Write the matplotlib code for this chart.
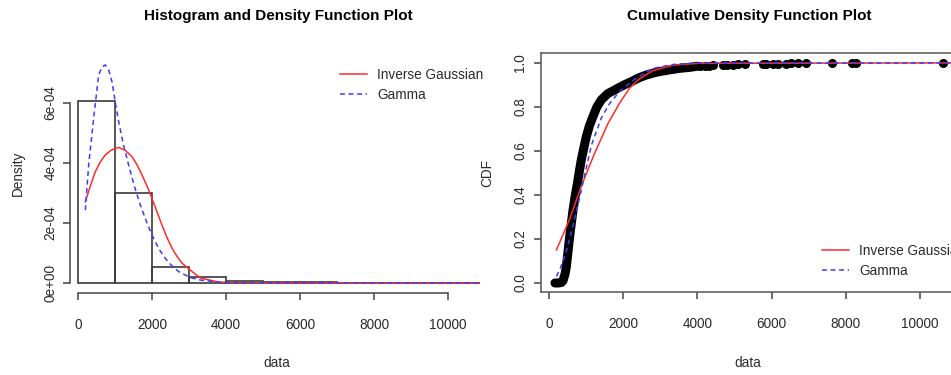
import numpy as np
import matplotlib
matplotlib.use("Agg")
import matplotlib.pyplot as plt
from matplotlib.lines import Line2D

plt.rcParams['font.family'] = ['Liberation Sans', 'DejaVu Sans']

# ---------------- data ----------------
hist_breaks = [0, 1000, 2000, 3000, 4000, 5000, 6000, 7000, 8000, 9000, 10000, 11000]
hist_density = [6.08e-4, 3.0e-4, 0.55e-4, 0.2e-4, 0.08e-4, 0.03e-4, 0.03e-4,
                0.005e-4, 0.01e-4, 0.0, 0.005e-4]

gamma_pdf_x = [198, 288, 423, 558, 650, 739, 830, 919, 1010, 1099, 1230, 1369, 1530,
               1685, 1850, 2000, 2180, 2360, 2540, 2721, 3036, 3300, 3800, 4500, 11000]
gamma_pdf_y = [2.43e-4, 3.93e-4, 5.49e-4, 6.93e-4, 7.2e-4, 7.27e-4, 7.1e-4, 6.71e-4,
               6.0e-4, 5.38e-4, 4.6e-4, 3.93e-4, 3.2e-4, 2.6e-4, 2.05e-4, 1.6e-4,
               1.15e-4, 0.82e-4, 0.57e-4, 0.38e-4, 0.18e-4, 0.1e-4, 0.03e-4, 0.0, 0.0]

invg_pdf_x = [198, 330, 468, 600, 739, 900, 1099, 1280, 1459, 1600, 1730, 1870, 2000,
              2135, 2270, 2400, 2541, 2680, 2811, 3036, 3300, 3800, 4500, 11000]
invg_pdf_y = [2.71e-4, 3.22e-4, 3.71e-4, 4.03e-4, 4.27e-4, 4.43e-4, 4.52e-4, 4.42e-4,
              4.21e-4, 3.93e-4, 3.6e-4, 3.22e-4, 2.82e-4, 2.37e-4, 1.93e-4, 1.53e-4,
              1.16e-4, 0.88e-4, 0.66e-4, 0.43e-4, 0.17e-4, 0.03e-4, 0.005e-4, 0.0]

ecdf_x = [160, 250, 330, 377, 430, 467, 510, 556, 600, 646, 700, 763, 820, 870, 940,
          1005, 1090, 1184, 1290, 1409, 1580, 1768, 2000, 2216, 2420, 2620, 2900,
          3200, 3500, 3800, 4000]
ecdf_y = [0.0, 0.0, 0.002, 0.01, 0.04, 0.074, 0.14, 0.21, 0.27, 0.33, 0.39, 0.45,
          0.51, 0.56, 0.615, 0.665, 0.715, 0.756, 0.8, 0.832, 0.86, 0.877, 0.898,
          0.915, 0.932, 0.945, 0.958, 0.967, 0.975, 0.98, 0.985]

tail_x = [4065, 4200, 4300, 4423, 4692, 4800, 4961, 5100, 5276, 5769, 5850, 6038,
          6173, 6397, 6532, 6711, 6918, 7636, 8174, 8282, 10614]
tail_y = [0.986, 0.987, 0.988, 0.989, 0.990, 0.991, 0.992, 0.993, 0.994, 0.995,
          0.9955, 0.996, 0.9965, 0.997, 0.9975, 0.998, 0.9985, 0.999, 0.9992,
          0.9995, 1.0]

gamma_cdf_x = [200, 300, 400, 500, 600, 700, 800, 960, 1140, 1410, 1630, 1900, 2300,
               2800, 3350, 4000, 11020]
gamma_cdf_y = [0.03, 0.065, 0.11, 0.165, 0.23, 0.3, 0.37, 0.49, 0.625, 0.75, 0.815,
               0.87, 0.925, 0.975, 0.993, 0.999, 1.0]

invg_cdf_x = [200, 556, 870, 1230, 1590, 1900, 2170, 2400, 2800, 3350, 4000, 11020]
invg_cdf_y = [0.15, 0.29, 0.44, 0.59, 0.725, 0.817, 0.885, 0.923, 0.965, 0.99, 0.998, 1.0]

x_ticks = [0, 2000, 4000, 6000, 8000, 10000]
dens_ticks = [0, 2e-4, 4e-4, 6e-4]
dens_tick_labels = ["0e+00", "2e-04", "4e-04", "6e-04"]
cdf_ticks = [0.0, 0.2, 0.4, 0.6, 0.8, 1.0]
cdf_tick_labels = ["0.0", "0.2", "0.4", "0.6", "0.8", "1.0"]
legend_labels = ["Inverse Gaussian", "Gamma"]

# ---------------- style ----------------
W, H = 951, 375
RED = '#ff2b2b'
BLUE = '#3b3bff'
AX_COL = '#444444'
TXT_COL = '#2a2a2a'
FS = 9.8
TFS = 11
DASH = (0, (3.2, 2.4))

fig = plt.figure(figsize=(W / 100, H / 100), dpi=100)

def fx(px):
    return px / W

def fy(py):
    return 1 - py / H

# ---------------- left panel ----------------
ax1 = fig.add_axes([fx(70), fy(293), (480 - 70) / W, (293 - 55) / H])
ax1.set_xlim(-216, 10865)
ax1.set_ylim(-0.333e-4, 7.6e-4)
widths = np.diff(hist_breaks)
ax1.bar(hist_breaks[:-1], hist_density, width=widths, align='edge', fill=False,
        edgecolor='#3a3a3a', linewidth=1.2, zorder=2)
ax1.plot(invg_pdf_x, invg_pdf_y, color=RED, lw=1.1, zorder=3)
ax1.plot(gamma_pdf_x, gamma_pdf_y, color=BLUE, lw=1.1, ls=DASH, zorder=3)
for s in ['top', 'right']:
    ax1.spines[s].set_visible(False)
ax1.spines['left'].set_bounds(0, 6e-4)
ax1.spines['bottom'].set_bounds(0, 10000)
for s in ['left', 'bottom']:
    ax1.spines[s].set_color(AX_COL)
    ax1.spines[s].set_linewidth(1.1)
ax1.set_xticks(x_ticks)
ax1.set_xticklabels([str(t) for t in x_ticks])
ax1.set_yticks(dens_ticks)
ax1.set_yticklabels(dens_tick_labels, rotation=90, va='center')
ax1.tick_params(axis='both', length=5, width=1.1, color=AX_COL,
                labelsize=FS, labelcolor=TXT_COL)
ax1.tick_params(axis='x', pad=13)
ax1.tick_params(axis='y', pad=4)
ax1.set_facecolor('none')

leg1 = ax1.legend([Line2D([], [], color=RED, lw=1.1),
                   Line2D([], [], color=BLUE, lw=1.1, ls=DASH)],
                  legend_labels, loc='upper left', frameon=False,
                  bbox_to_anchor=(fx(340), fy(68)), bbox_transform=fig.transFigure,
                  borderpad=0, borderaxespad=0, handlelength=2.0,
                  handletextpad=0.75, labelspacing=0.45, fontsize=FS)
for t in leg1.get_texts():
    t.set_color(TXT_COL)

fig.text(fx(278), fy(16), "Histogram and Density Function Plot", ha='center',
         va='center', fontsize=TFS, fontweight='bold', color='black')
fig.text(fx(277), fy(363), "data", ha='center', va='center', fontsize=FS,
         color=TXT_COL)
fig.text(fx(18), fy(173), "Density", ha='center', va='center', fontsize=FS,
         color=TXT_COL, rotation=90)

# ---------------- right panel ----------------
ax2 = fig.add_axes([fx(541), fy(292), (958 - 541) / W, (292 - 53) / H])
ax2.set_xlim(-216, 11020)
ax2.set_ylim(-0.041, 1.045)
ax2.plot(ecdf_x, ecdf_y, color='black', lw=6.5, solid_capstyle='round',
         solid_joinstyle='round', zorder=2)
ax2.plot(tail_x, tail_y, ls='none', marker='o', ms=5.5, color='black',
         zorder=2)
ax2.plot(invg_cdf_x, invg_cdf_y, color=RED, lw=1.1, zorder=3)
ax2.plot(gamma_cdf_x, gamma_cdf_y, color=BLUE, lw=1.1, ls=DASH, zorder=3)
for s in ax2.spines.values():
    s.set_color('#555555')
    s.set_linewidth(1.1)
ax2.set_xticks(x_ticks)
ax2.set_xticklabels([str(t) for t in x_ticks])
ax2.set_yticks(cdf_ticks)
ax2.set_yticklabels(cdf_tick_labels, rotation=90, va='center')
ax2.tick_params(axis='both', length=5, width=1.1, color=AX_COL,
                labelsize=FS, labelcolor=TXT_COL)
ax2.tick_params(axis='x', pad=13)
ax2.tick_params(axis='y', pad=5)

leg2 = ax2.legend([Line2D([], [], color=RED, lw=1.1),
                   Line2D([], [], color=BLUE, lw=1.1, ls=DASH)],
                  legend_labels, loc='upper left', frameon=False,
                  bbox_to_anchor=(fx(822), fy(244)), bbox_transform=fig.transFigure,
                  borderpad=0, borderaxespad=0, handlelength=2.0,
                  handletextpad=0.75, labelspacing=0.45, fontsize=FS)
for t in leg2.get_texts():
    t.set_color(TXT_COL)

fig.text(fx(749), fy(16), "Cumulative Density Function Plot", ha='center',
         va='center', fontsize=TFS, fontweight='bold', color='black')
fig.text(fx(748), fy(363), "data", ha='center', va='center', fontsize=FS,
         color=TXT_COL)
fig.text(fx(487), fy(173), "CDF", ha='center', va='center', fontsize=FS,
         color=TXT_COL, rotation=90)

fig.savefig("out.png", dpi=100)
